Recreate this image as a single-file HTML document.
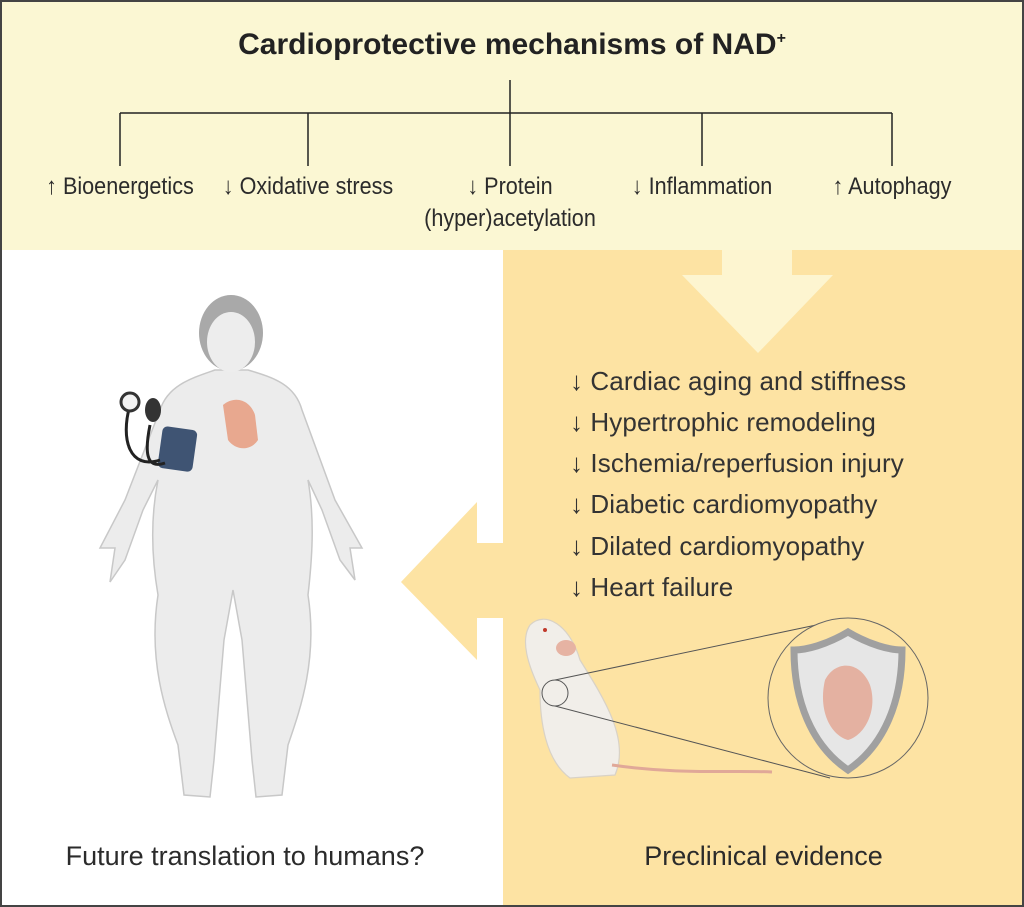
<!DOCTYPE html>
<html><head><meta charset="utf-8"><style>
html,body{margin:0;padding:0;}
body{width:1024px;height:907px;position:relative;overflow:hidden;background:#fff;font-family:"Liberation Sans",sans-serif;color:#2b2b2b;}
.abs{position:absolute;}
.lbl{position:absolute;font-size:24px;white-space:nowrap;transform:scaleX(0.9);transform-origin:center;text-align:center;line-height:32px;}
.li{position:absolute;left:570px;font-size:26px;color:#333;white-space:nowrap;letter-spacing:0.1px;}
</style></head><body>
<div class="abs" style="left:0;top:0;width:1024px;height:250px;background:#fbf7d3;"></div>
<div class="abs" style="left:503px;top:250px;width:521px;height:657px;background:#fde3a3;"></div>
<svg class="abs" style="left:0;top:0" width="1024" height="907">
  <polygon points="722,250 792,250 792,275 833,275 758,353 682,275 722,275" fill="#fdf5d0"/>
  <polygon points="503,543 477,543 477,502 401,582 477,660 477,618 503,618" fill="#fde3a3"/>
  <g stroke="#222" stroke-width="1.5" fill="none">
    <line x1="510" y1="80" x2="510" y2="113"/>
    <line x1="120" y1="113" x2="892" y2="113"/>
    <line x1="120" y1="113" x2="120" y2="166"/>
    <line x1="308" y1="113" x2="308" y2="166"/>
    <line x1="510" y1="113" x2="510" y2="166"/>
    <line x1="702" y1="113" x2="702" y2="166"/>
    <line x1="892" y1="113" x2="892" y2="166"/>
  </g>
  <!-- human -->
  <path d="M215 370 L248 370 C275 378 295 385 302 410 L335 500 L362 548 L350 548 L355 580 L340 560 L322 510 L308 480 C315 520 312 560 308 595 C318 660 300 710 288 745 L282 795 L256 797 L252 760 L242 640 L233 590 L224 640 L214 760 L210 797 L184 795 L178 745 C165 710 148 660 158 595 C152 560 150 520 158 480 L143 510 L125 560 L110 582 L115 548 L100 548 L125 500 L160 410 C168 385 192 378 215 370 Z" fill="#ececec" stroke="#c8c8c8" stroke-width="1.5"/>
  <ellipse cx="231" cy="333" rx="32" ry="38" fill="#a9a9a9"/>
  <ellipse cx="231" cy="342" rx="24" ry="30" fill="#ededed"/>
  <path d="M223 405 C235 395 250 400 255 415 L258 440 C250 452 235 450 228 440 Z" fill="#e8a88f"/>
  <rect x="160" y="428" width="35" height="42" rx="5" fill="#3f5473" transform="rotate(8 177 449)"/>
  <path d="M160 460 C130 470 120 440 130 405 M165 463 C145 470 145 450 150 425" stroke="#222" stroke-width="3" fill="none"/>
  <circle cx="130" cy="402" r="9" fill="#f2f2f2" stroke="#333" stroke-width="3"/>
  <ellipse cx="153" cy="410" rx="8" ry="12" fill="#333"/>
  <!-- mouse -->
  <path d="M530 625 C545 610 570 625 580 660 C605 700 630 740 615 775 L570 778 C545 760 540 720 540 690 C528 665 520 640 530 625 Z" fill="#f1eee9" stroke="#d9d2c6" stroke-width="1.2"/>
  <ellipse cx="566" cy="648" rx="10" ry="8" fill="#e6b3a3"/>
  <circle cx="545" cy="630" r="2" fill="#c0392b"/>
  <path d="M612 765 C680 775 730 770 772 772" stroke="#e0a898" stroke-width="3" fill="none"/>
  <circle cx="555" cy="693" r="13" fill="#f1eee9" stroke="#555" stroke-width="1"/>
  <line x1="555" y1="680" x2="840" y2="620" stroke="#555" stroke-width="1"/>
  <line x1="555" y1="706" x2="830" y2="778" stroke="#555" stroke-width="1"/>
  <circle cx="848" cy="698" r="80" fill="#fde3a3" stroke="#666" stroke-width="1"/>
  <path d="M848 632 C870 645 890 650 902 650 C902 700 885 745 848 770 C811 745 794 700 794 650 C806 650 826 645 848 632 Z" fill="#e6e6e6" stroke="#a0a0a0" stroke-width="7"/>
  <path d="M825 680 C835 660 860 660 870 685 C878 710 865 735 848 740 C830 735 818 710 825 680 Z" fill="#e4b1a1"/>
  <rect x="1" y="1" width="1022" height="905" fill="none" stroke="#444" stroke-width="2"/>
</svg>
<div class="abs" style="left:0;width:1024px;top:28px;text-align:center;font-size:30px;font-weight:bold;color:#222;">Cardioprotective mechanisms of NAD<sup style="font-size:16px">+</sup></div>
<div class="lbl" style="left:20px;width:200px;top:171px;">↑ Bioenergetics</div>
<div class="lbl" style="left:208px;width:200px;top:171px;">↓ Oxidative stress</div>
<div class="lbl" style="left:400px;width:220px;top:171px;">↓ Protein<br>(hyper)acetylation</div>
<div class="lbl" style="left:602px;width:200px;top:171px;">↓ Inflammation</div>
<div class="lbl" style="left:792px;width:200px;top:171px;">↑ Autophagy</div>
<div class="li" style="top:366px">↓ Cardiac aging and stiffness</div>
<div class="li" style="top:407px">↓ Hypertrophic remodeling</div>
<div class="li" style="top:448px">↓ Ischemia/reperfusion injury</div>
<div class="li" style="top:489px">↓ Diabetic cardiomyopathy</div>
<div class="li" style="top:531px">↓ Dilated cardiomyopathy</div>
<div class="li" style="top:572px">↓ Heart failure</div>
<div class="abs" style="left:0;width:490px;top:841px;text-align:center;font-size:27px;">Future translation to humans?</div>
<div class="abs" style="left:503px;width:521px;top:841px;text-align:center;font-size:27px;">Preclinical evidence</div>
</body></html>
